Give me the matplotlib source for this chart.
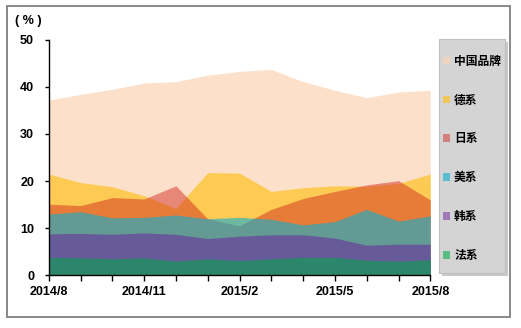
import matplotlib
matplotlib.use("Agg")
import matplotlib.pyplot as plt
from matplotlib.patches import Rectangle
import numpy as np

plt.rcParams['font.family'] = ['Liberation Sans', 'Noto Sans CJK SC', 'DejaVu Sans']

months = ["2014/8", "2014/9", "2014/10", "2014/11", "2014/12", "2015/1", "2015/2",
          "2015/3", "2015/4", "2015/5", "2015/6", "2015/7", "2015/8"]
tick_labels = ["2014/8", "", "", "2014/11", "", "", "2015/2", "", "", "2015/5", "", "", "2015/8"]

china  = [37.2, 38.4, 39.5, 40.8, 41.1, 42.5, 43.3, 43.7, 41.1, 39.3, 37.7, 38.9, 39.3]
german = [21.5, 19.7, 18.8, 16.9, 14.2, 21.8, 21.7, 17.8, 18.6, 19.0, 18.9, 19.5, 21.5]
japan  = [15.1, 14.8, 16.5, 16.2, 19.0, 12.0, 10.5, 14.0, 16.3, 17.8, 19.2, 20.1, 16.0]
usa    = [13.0, 13.5, 12.2, 12.3, 12.8, 12.0, 12.3, 11.9, 10.7, 11.4, 14.0, 11.5, 12.6]
korea  = [8.8, 8.9, 8.7, 9.0, 8.7, 7.8, 8.3, 8.6, 8.6, 7.9, 6.4, 6.6, 6.6]
france = [3.8, 3.7, 3.5, 3.7, 3.0, 3.5, 3.1, 3.5, 3.8, 3.8, 3.2, 3.0, 3.3]

series = [
    ("中国品牌", china,  "#FCD5B5", 0.73),
    ("德系",     german, "#FEC222", 0.70),
    ("日系",     japan,  "#CE1B17", 0.45),
    ("美系",     usa,    "#0BAFD2", 0.60),
    ("韩系",     korea,  "#691E9C", 0.50),
    ("法系",     france, "#00A84A", 0.57),
]

W, H = 521, 328
fig = plt.figure(figsize=(W / 100, H / 100), dpi=100)
ax = fig.add_axes([48.7 / W, 1 - 275.3 / H, (430.3 - 48.7) / W, (275.3 - 39.8) / H])

x = np.arange(len(months))
handles = []
for name, vals, col, a in series:
    h = ax.fill_between(x, 0, vals, color=col, alpha=a, linewidth=0, label=name)
    handles.append(h)

ax.set_xlim(0, len(months) - 1)
ax.set_ylim(0, 50)
ax.set_yticks([0, 10, 20, 30, 40, 50])
ax.set_xticks(x)
ax.set_xticklabels(tick_labels)
for s in ["top", "right"]:
    ax.spines[s].set_visible(False)
for s in ["left", "bottom"]:
    ax.spines[s].set_color("black")
    ax.spines[s].set_linewidth(1.0)
ax.tick_params(axis='y', direction='out', length=3, width=1, pad=7.5, labelsize=9)
ax.tick_params(axis='x', direction='out', length=4, width=1, pad=4, labelsize=9)
for lab in ax.get_xticklabels() + ax.get_yticklabels():
    lab.set_fontweight('bold')
    lab.set_color('black')

fig.text(28 / W, 1 - 20.7 / H, "( % )", ha='center', va='center', fontsize=9, fontweight='bold')

# legend background box with shadow (drawn in the axes, beneath the legend)
shadow = Rectangle(((439 + 3) / W, 1 - (273 + 3) / H), (505 - 439) / W, (273 - 39) / H,
                   transform=fig.transFigure, facecolor='#A6A6A6', edgecolor='none',
                   alpha=0.6, clip_on=False, zorder=3)
ax.add_patch(shadow)
box = Rectangle((439 / W, 1 - 273 / H), (505 - 439) / W, (273 - 39) / H,
                transform=fig.transFigure, facecolor='#D4D4D4', edgecolor='#BFBFBF',
                linewidth=0.8, clip_on=False, zorder=4)
ax.add_patch(box)

leg = ax.legend(handles=handles, loc='upper left',
                bbox_to_anchor=(443 / W, 1 - 55.5 / H), bbox_transform=fig.transFigure,
                prop={'size': 8.5, 'weight': 'bold'}, labelspacing=2.28,
                handlelength=0.6, handleheight=0.6, handletextpad=0.34,
                borderpad=0, borderaxespad=0, frameon=False)
leg.set_zorder(6)

frame = Rectangle((7 / W, 1 - 317 / H), (510 - 7) / W, (317 - 6) / H,
                  transform=fig.transFigure, fill=False, edgecolor='#808080', linewidth=1.3)
fig.add_artist(frame)

fig.savefig("out.png", dpi=100)
